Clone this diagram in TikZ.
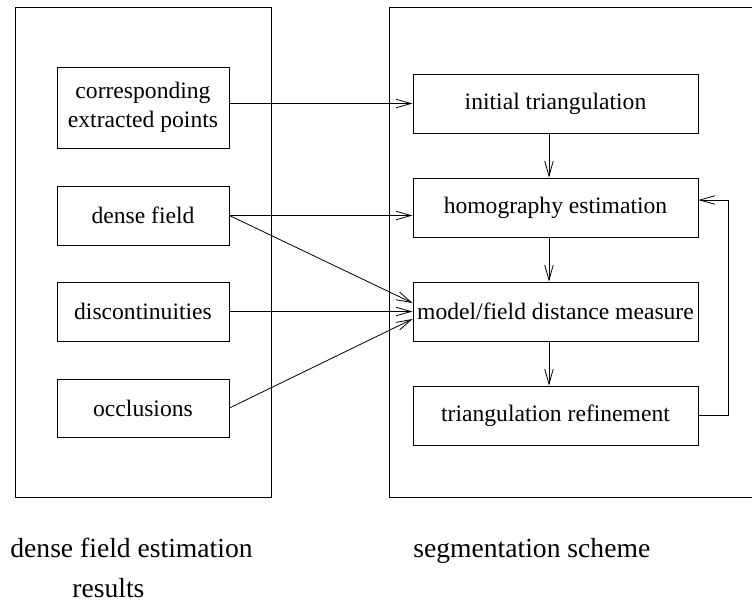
\documentclass[tikz,border=0pt]{standalone}
\usepackage{fontspec}
\setmainfont{Liberation Serif}
\usetikzlibrary{arrows.meta,calc}
\begin{document}
\begin{tikzpicture}[x=1pt,y=-1pt,
  every path/.style={line width=0.8pt},
  frame/.style={draw, line width=0.9pt},
  lbox/.style={draw, line width=0.9pt, minimum width=172pt, inner sep=0pt, align=center,
    font=\fontsize{23.6}{28.5}\selectfont},
  rbox/.style={draw, line width=0.9pt, minimum width=285pt, minimum height=59pt, inner sep=0pt,
    font=\fontsize{23.6}{28.5}\selectfont},
  captext/.style={anchor=base west, inner sep=0pt, font=\fontsize{27.6}{33}\selectfont},
  arr/.style={-{Straight Barb[length=15pt,width=8.5pt,line width=0.8pt]}}]
\useasboundingbox (0,0) rectangle (752,603);
\fill[white] (0,0) rectangle (752,603);
% frames
\draw[frame] (15,7) rectangle (271,497);
\draw[frame] (760,7) -- (389,7) -- (389,497) -- (760,497);
% left boxes
\node[lbox, minimum height=81pt] (corr) at (143,107.5) {corresponding\\extracted points};
\node[lbox, minimum height=59pt] (dense) at (143,215.5) {dense field};
\node[lbox, minimum height=59pt] (disc) at (143,311.5) {discontinuities};
\node[lbox, minimum height=58pt] (occl) at (143,408) {occlusions};
% right boxes
\node[rbox] (init) at (555.5,103.5) {initial triangulation};
\node[rbox] (homog) at (555.5,207.5) {homography estimation};
\node[rbox] (model) at (555.5,311.5) {model/field distance measure};
\node[rbox] (refine) at (555.5,415.5) {triangulation refinement};
% captions
\node[captext] (capl) at (10,557) {dense field estimation};
\node[captext] (capl2) at (72,597) {results};
\node[captext] (capr) at (413,557) {segmentation scheme};
% connectors
\draw[arr] (corr.east |- init.west) -- (init.west);
\draw[arr] (dense.east) -- (dense.east -| homog.west);
\draw[arr] (dense.east) -- ($(model.west)+(0,-8.5)$);
\draw[arr] (disc.east) -- (disc.east -| model.west);
\draw[arr] (occl.east) -- ($(model.west)+(0,7.5)$);
\draw[arr] ($(init.south)+(-6.5,0)$) -- ($(homog.north)+(-6.5,0)$);
\draw[arr] ($(homog.south)+(-6.5,0)$) -- ($(model.north)+(-6.5,0)$);
\draw[arr] ($(model.south)+(-6.5,0)$) -- ($(refine.north)+(-6.5,0)$);
\coordinate (loop) at ($(refine.east)+(30,0)$);
\draw[arr] (refine.east) -- (loop) |- ($(homog.east)+(0,-7.5)$);
\end{tikzpicture}
\end{document}
